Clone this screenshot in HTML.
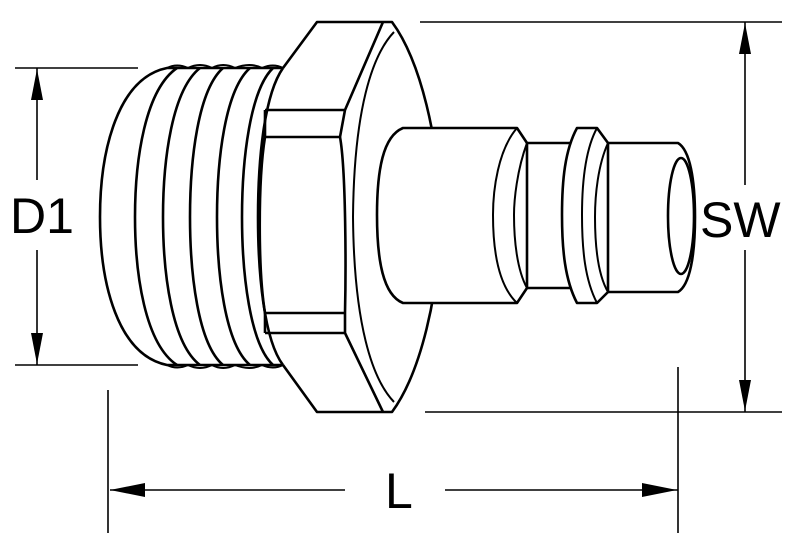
<!DOCTYPE html>
<html><head><style>
html,body{margin:0;padding:0;background:#fff;}
svg{display:block;}
text{font-family:"Liberation Sans",sans-serif;fill:#000;}
</style></head><body>
<svg width="800" height="533" viewBox="0 0 800 533" xmlns="http://www.w3.org/2000/svg">
<g fill="none" stroke="#000" stroke-width="2.6" stroke-linejoin="round">
<!-- thread outer -->
<path d="M283,68 L167,68 C118,78 100,150 100,217 C100,284 118,355 167,365 L283,365"/>
<path d="M177,68 C145,90 135,160 135,217 C135,274 145,344 177,365"/>
<path d="M200,68 C172,90 163,160 163,217 C163,274 172,344 200,365"/>
<path d="M223,68 C198,90 190,160 190,217 C190,274 198,344 223,365"/>
<path d="M250,68 C225,90 217,160 217,217 C217,274 225,344 250,365"/>
<path d="M273,68 C250,90 242,160 242,217 C242,274 250,344 273,365"/>
<path d="M283,68 C264,95 258,160 258,217 C258,274 264,340 283,365"/>
<path d="M167,68 Q177,63 188,68 Q200,62 212,68 Q223,62 235,68 Q250,62 262,68 Q273,63 283,68" stroke-width="2"/>
<path d="M167,365 Q177,370 188,365 Q200,371 212,365 Q223,371 235,365 Q250,371 262,365 Q273,370 283,365" stroke-width="2"/>
<!-- hex -->
<path d="M283,68 L317,22 L392,22 C420,60 440,140 440,217 C440,294 420,374 392,412 L317,412 L283,365"/>
<path d="M394,32 C372,55 354,110 353,217 C354,324 372,379 394,402" stroke-width="2"/>
<path d="M383,22 L345,110 L265,110 M345,110 L340,137 L265,137"/>
<path d="M340,137 C346,170 346,270 345,313 L265,313 M345,313 L345,333 L265,333 M345,333 L383,412"/>
<path d="M265,110 L265,137 C258,180 258,270 265,313 L265,333"/>
<!-- plug body -->
<path fill="#fff" d="M403,128 L517,128 L527,143 L527,288 L517,303 L403,303 C383,295 377,260 377,215 C377,170 383,136 403,128 Z"/>
<path d="M517,128 C498,150 493,190 493,215 C493,250 498,285 517,303" stroke-width="2"/>
<path d="M527,143 C517,170 514,200 514,215 C514,240 517,270 527,288" stroke-width="2"/>
<path d="M527,143 L570,143 M527,288 L570,288"/>
<!-- ring -->
<path fill="#fff" d="M577,128 L597,128 L608,143 L608,292 L597,303 L577,303 C565,280 562,250 562,215 C562,180 565,150 577,128 Z"/>
<path d="M597,128 C585,150 582,185 582,215 C582,250 585,280 597,303" stroke-width="2"/>
<!-- nose -->
<path d="M608,143 L678,143 C690,150 695,180 695,217 C695,255 690,285 678,292 L608,292"/>
<path d="M608,143 C598,165 595,195 595,217 C595,245 598,275 608,292" stroke-width="2"/>
<ellipse cx="681" cy="216" rx="13" ry="58"/>
</g>
<g stroke="#000" stroke-width="1.6" fill="none">
<line x1="15" y1="68" x2="138" y2="68"/>
<line x1="15" y1="365" x2="138" y2="365"/>
<line x1="37" y1="68" x2="37" y2="180"/>
<line x1="37" y1="250" x2="37" y2="365"/>
<line x1="420" y1="22" x2="782" y2="22"/>
<line x1="425" y1="412" x2="782" y2="412"/>
<line x1="745" y1="22" x2="745" y2="185"/>
<line x1="745" y1="250" x2="745" y2="412"/>
<line x1="108" y1="390" x2="108" y2="533"/>
<line x1="678" y1="367" x2="678" y2="533"/>
<line x1="110" y1="490" x2="345" y2="490"/>
<line x1="445" y1="490" x2="678" y2="490"/>
</g>
<g fill="#000">
<polygon points="37,69 31,100 43,100"/>
<polygon points="37,364 31,333 43,333"/>
<polygon points="745,23 739,54 751,54"/>
<polygon points="745,411 739,380 751,380"/>
<polygon points="110,490 145,483 145,497"/>
<polygon points="677,490 642,483 642,497"/>
</g>
<text x="10" y="233" font-size="50">D1</text>
<text x="700" y="237" font-size="50">SW</text>
<text x="385" y="508" font-size="50">L</text>
</svg>
</body></html>
